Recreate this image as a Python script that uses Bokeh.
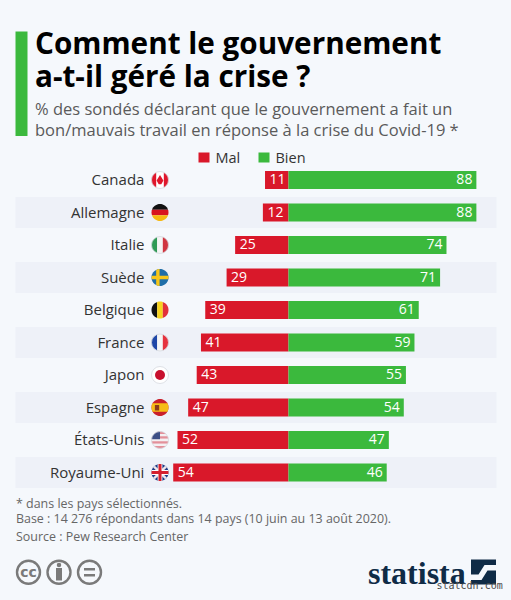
from bokeh.core.properties import value
from bokeh.embed import file_html
from bokeh.models import Range1d
from bokeh.plotting import figure
from bokeh.resources import INLINE
import numpy as np

countries = ["Canada", "Allemagne", "Italie", "Suède", "Belgique", "France", "Japon", "Espagne", "États-Unis", "Royaume-Uni"]
mal = [11, 12, 25, 29, 39, 41, 43, 47, 52, 54]
bien = [88, 88, 74, 71, 61, 59, 55, 54, 47, 46]
legend_labels = ["Mal", "Bien"]
title_lines = ["Comment le gouvernement", "a-t-il géré la crise ?"]
subtitle_lines = ["% des sondés déclarant que le gouvernement a fait un",
                  "bon/mauvais travail en réponse à la crise du Covid-19 *"]
foot_lines = ["* dans les pays sélectionnés.",
              "Base : 14 276 répondants dans 14 pays (10 juin au 13 août 2020).",
              "Source : Pew Research Center"]

BG, BAND, RED, GREEN, NAVY = "#f5f8fc", "#eef1f8", "#d9182a", "#3bb93d", "#0f2b46"
FONT = "Open Sans"

p = figure(width=511, height=600, output_backend="svg", toolbar_location=None,
           x_range=Range1d(-134.9, 104.45), y_range=Range1d(12.938, -5.523),
           x_axis_location=None, y_axis_location=None, min_border=0,
           background_fill_color=BG, border_fill_color=BG, outline_line_color=None)
p.grid.visible = False
# second pair of ranges in page pixels, for the layout furniture
p.extra_x_ranges = {"px": Range1d(0, 511)}
p.extra_y_ranges = {"px": Range1d(600, 0)}
PX = dict(x_range_name="px", y_range_name="px")

def text(x, y, s, size, color, align="left", base="middle", style="normal", font=FONT):
    p.text([x], [y], text=[s], text_font=value(font), text_font_size=f"{size}px", text_color=color,
           text_align=align, text_baseline=base, text_font_style=style, **PX)

rows = list(range(len(countries)))

# bands
p.hbar(y=[i for i in rows if i % 2 == 1], left=-127.9, right=97.4, height=0.96, color=BAND, line_color=None)

# bars
p.hbar(y=rows, left=[-v for v in mal], right=0, height=0.56, color=RED, line_color=None)
p.hbar(y=rows, left=0, right=bien, height=0.56, color=GREEN, line_color=None)
p.text([-v for v in mal], rows, text=[str(v) for v in mal], x_offset=4.5, y_offset=-1, text_color="white",
       text_font=value(FONT), text_font_size="14px", text_align="left", text_baseline="middle")
p.text(bien, rows, text=[str(v) for v in bien], x_offset=-4, y_offset=-1, text_color="white",
       text_font=value(FONT), text_font_size="14px", text_align="right", text_baseline="middle")
p.text([-67.5] * len(rows), rows, text=countries, y_offset=-1, text_color="#333333", text_font=value(FONT),
       text_font_size="15px", text_align="right", text_baseline="middle")

# flags
def clip(poly, convex):
    c = np.mean(convex, axis=0)
    out = list(poly)
    for k in range(len(convex)):
        a, b = np.array(convex[k]), np.array(convex[(k + 1) % len(convex)])
        n = np.array([-(b - a)[1], (b - a)[0]])
        if np.dot(c - a, n) < 0:
            n = -n
        res = []
        for j in range(len(out)):
            s, e = np.array(out[j]), np.array(out[(j + 1) % len(out)])
            ds, de = np.dot(s - a, n), np.dot(e - a, n)
            if ds >= 0:
                res.append(s)
            if ds * de < 0:
                res.append(s + (e - s) * ds / (ds - de))
        out = res
        if not out:
            break
    return out

CIRCLE = [(np.cos(t), np.sin(t)) for t in np.linspace(0, 2 * np.pi, 48, endpoint=False)]
def R(x0, y0, x1, y1):
    return [(x0, y0), (x1, y0), (x1, y1), (x0, y1)]
def D(x0, y0, x1, y1, w):
    n = np.array([-(y1 - y0), x1 - x0], float)
    n = n / np.hypot(*n) * w
    return [(x0 + n[0], y0 + n[1]), (x1 + n[0], y1 + n[1]), (x1 - n[0], y1 - n[1]), (x0 - n[0], y0 - n[1])]

us = [("#e3909a" if k % 2 == 0 else "#f4f0f2", R(-1, -1 + k * 2 / 7, 1, -1 + (k + 1) * 2 / 7)) for k in range(7)]
FLAGS = {
    "Canada": [("#ffffff", R(-1, -1, 1, 1)), ("#e0162b", R(-1, -1, -.45, 1)), ("#e0162b", R(.45, -1, 1, 1)),
               ("#e0162b", [(0, -.6), (.4, .05), (.15, .5), (-.15, .5), (-.4, .05)])],
    "Allemagne": [("#111111", R(-1, -1, 1, -.33)), ("#d8141e", R(-1, -.33, 1, .33)), ("#f6b80f", R(-1, .33, 1, 1))],
    "Italie": [("#2f9a55", R(-1, -1, -.33, 1)), ("#f4f4f4", R(-.33, -1, .33, 1)), ("#d0343f", R(.33, -1, 1, 1))],
    "Suède": [("#1f6ea8", R(-1, -1, 1, 1)), ("#f7c61a", R(-.45, -1, -.05, 1)), ("#f7c61a", R(-1, -.2, 1, .2))],
    "Belgique": [("#111111", R(-1, -1, -.33, 1)), ("#f7d21e", R(-.33, -1, .33, 1)), ("#e2303a", R(.33, -1, 1, 1))],
    "France": [("#1f47a8", R(-1, -1, -.33, 1)), ("#f6f6f6", R(-.33, -1, .33, 1)), ("#e6323e", R(.33, -1, 1, 1))],
    "Japon": [("#ffffff", R(-1, -1, 1, 1))],
    "Espagne": [("#c9202b", R(-1, -1, 1, 1)), ("#f6bd16", R(-1, -.5, 1, .5)), ("#8a3b1c", R(-.6, -.3, -.1, .35))],
    "États-Unis": us + [("#3c4f86", R(-1, -1, 0, -.1))],
    "Royaume-Uni": [("#1d3b86", R(-1, -1, 1, 1)), ("#f0e6ea", D(-1, -1, 1, 1, .14)), ("#f0e6ea", D(-1, 1, 1, -1, .14)),
                    ("#ffffff", R(-.28, -1, .28, 1)), ("#ffffff", R(-1, -.28, 1, .28)),
                    ("#d5202e", R(-.18, -1, .18, 1)), ("#d5202e", R(-1, -.18, 1, .18))],
}
FX, FR = 159.5, 8.5
for i, name in enumerate(countries):
    cy = 179.5 + 32.5 * i
    for color, shape in FLAGS[name]:
        pts = clip(CIRCLE, shape)
        p.patch([FX + FR * q[0] for q in pts], [cy + FR * q[1] for q in pts], color=color, line_color=None, **PX)
    if name in ("Canada", "Japon", "Italie", "France", "États-Unis"):
        p.scatter([FX], [cy], size=2 * FR, fill_color=None, line_color="#d6d9e0", line_width=0.8, **PX)
    if name == "Japon":
        p.scatter([FX], [cy], size=10, color="#c8102e", line_color=None, **PX)

# header
p.quad(left=15, right=27, top=31, bottom=135.5, color=GREEN, line_color=None, **PX)
text(34.5, 42, title_lines[0], 29.7, "#000000", style="bold")
text(34.5, 75, title_lines[1], 29.7, "#000000", style="bold")
text(34.5, 108, subtitle_lines[0], 16.5, "#5a5a5a")
text(34.5, 128.5, subtitle_lines[1], 16.5, "#5a5a5a")

# legend
p.quad(left=198, right=209, top=152, bottom=162, color=RED, line_color=None, **PX)
p.quad(left=258, right=269, top=152, bottom=162, color=GREEN, line_color=None, **PX)
text(215, 156.5, legend_labels[0], 14.5, "#333333")
text(275, 156.5, legend_labels[1], 14.5, "#333333")

# footer
text(15.5, 503, foot_lines[0], 12.45, "#666666")
text(15.5, 518, foot_lines[1], 12.45, "#666666")
text(15.5, 536, foot_lines[2], 12.45, "#666666")

# licence icons
G = "#7a7a7a"
for cx in (28, 58.5, 89):
    p.scatter([cx], [571.7], size=23, fill_color=None, line_color=G, line_width=2.4, **PX)
text(28, 571, "cc", 14, G, align="center", style="bold", font="DejaVu Sans")
p.scatter([58.5], [564.5], size=4.5, color=G, line_color=None, **PX)
p.quad(left=55.5, right=61.5, top=567.5, bottom=580, color=G, line_color=None, **PX)
p.quad(left=83.5, right=94.5, top=567.5, bottom=570, color=G, line_color=None, **PX)
p.quad(left=83.5, right=94.5, top=573.5, bottom=576, color=G, line_color=None, **PX)

# logo
text(367.5, 572.5, "statista", 32, NAVY, style="bold", font="Liberation Sans Narrow")
p.quad(left=470.5, right=495.5, top=559, bottom=584, color=NAVY, line_color=None, **PX)
p.patch([470.5, 478, 484, 495.5, 495.5, 487, 481, 470.5], [574, 574, 564.5, 564.5, 570, 570, 579.5, 579.5],
        color=BG, line_color=None, **PX)
text(436, 584.5, "statcdn.com", 10, "#4a4a4a", font="DejaVu Sans Mono")

html = file_html(p, INLINE)
html = html.replace("<head>", f"<head><style>html,body{{background:{BG}}}</style>", 1)
open("out.html", "w").write(html)
